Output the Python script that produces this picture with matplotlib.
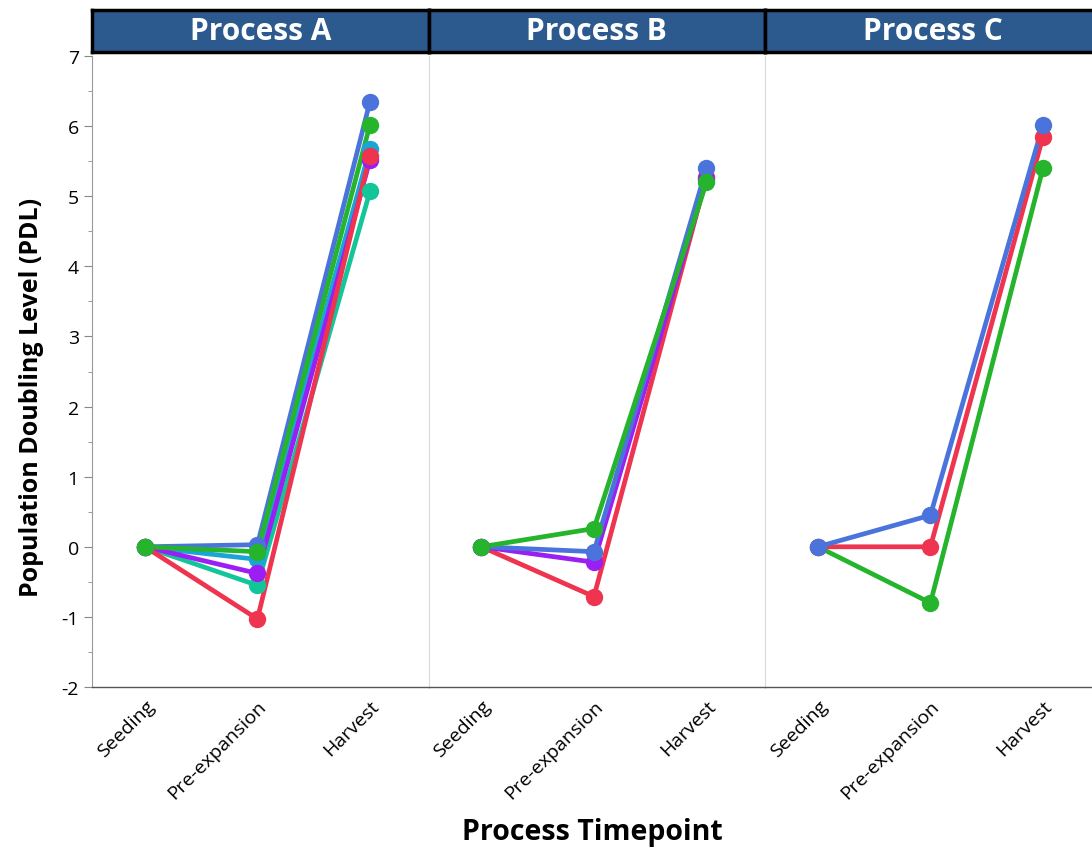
import matplotlib
matplotlib.use("Agg")
import matplotlib.pyplot as plt
from matplotlib.ticker import MultipleLocator

plt.rcParams['axes.unicode_minus'] = False

timepoints = ["Seeding", "Pre-expansion", "Harvest"]
processes = ["Process A", "Process B", "Process C"]

# Process A lots
a_blue = [0.0, 0.03, 6.35]
a_sky = [0.0, -0.18, 5.68]
a_green = [0.0, -0.07, 6.02]
a_purple = [0.0, -0.38, 5.52]
a_teal = [0.0, -0.55, 5.07]
a_red = [0.0, -1.03, 5.58]

# Process B lots
b_blue = [0.0, -0.07, 5.40]
b_purple = [0.0, -0.22, 5.25]
b_green = [0.0, 0.26, 5.20]
b_red = [0.0, -0.71, 5.27]

# Process C lots
c_blue = [0.0, 0.45, 6.02]
c_red = [0.0, 0.0, 5.85]
c_green = [0.0, -0.80, 5.40]

blue = "#4a74dc"
sky = "#1ba4d6"
green = "#25b42c"
purple = "#9b1ff2"
teal = "#13c69a"
red = "#ee344e"

panel_series = [
    [(a_teal, teal), (a_sky, sky), (a_purple, purple), (a_red, red), (a_blue, blue), (a_green, green)],
    [(b_red, red), (b_purple, purple), (b_blue, blue), (b_green, green)],
    [(c_green, green), (c_red, red), (c_blue, blue)],
]

W, H = 1092, 853
fig = plt.figure(figsize=(W / 100, H / 100), dpi=100)

left0 = 92 / W
pw = 336.5 / W
bot = 1 - 688 / H
ph = (688 - 57) / H
hb = 1 - 53 / H
hh = 42 / H

x = list(range(len(timepoints)))
axes = []
for i, (name, series) in enumerate(zip(processes, panel_series)):
    ax = fig.add_axes([left0 + i * pw, bot, pw, ph])
    axes.append(ax)
    for vals, col in series:
        ax.plot(x, vals, '-', color=col, lw=3.4, solid_capstyle='round', zorder=2)
        ax.plot(x, vals, 'o', color=col, ms=12.5, mec='none', zorder=3)
    ax.set_xlim(-0.47, 2.52)
    ax.set_ylim(-2, 7)
    ax.set_xticks(x)
    ax.set_xticklabels(timepoints, rotation=45, ha='right', rotation_mode='anchor',
                       fontsize=14, family='Open Sans')
    ax.tick_params(axis='x', length=0, pad=7)
    for s in ['top', 'right']:
        ax.spines[s].set_visible(False)
    ax.spines['bottom'].set_color('#555555')
    ax.spines['bottom'].set_linewidth(1.0)
    if i == 0:
        ax.spines['left'].set_color('#999999')
        ax.yaxis.set_major_locator(MultipleLocator(1))
        ax.yaxis.set_minor_locator(MultipleLocator(0.5))
        ax.tick_params(axis='y', which='major', length=6, color='#888888', labelsize=14)
        ax.tick_params(axis='y', which='minor', length=3, color='#888888')
        for t in ax.get_yticklabels():
            t.set_family('Open Sans')
        ax.set_ylabel("Population Doubling Level (PDL)", fontsize=18, fontweight='bold',
                      family='Open Sans')
        ax.yaxis.set_label_coords(-0.143, 0.46)
    else:
        ax.spines['left'].set_color('#d8d8d8')
        ax.tick_params(axis='y', which='both', left=False, labelleft=False)

    hax = fig.add_axes([left0 + i * pw, hb, pw, hh])
    hax.set_facecolor('#2c5a8e')
    hax.set_xticks([])
    hax.set_yticks([])
    for s in hax.spines.values():
        s.set_color('black')
        s.set_linewidth(2.5)
    hax.text(0.5, 0.5, name, color='white', fontsize=21.5, fontweight='bold',
             family='Open Sans', ha='center', va='center', transform=hax.transAxes)

fig.text((92 + 1092) / 2 / W, 1 - 833 / H, "Process Timepoint", fontsize=20.5,
         fontweight='bold', family='Open Sans', ha='center', va='center')

fig.savefig("out.png", dpi=100)
